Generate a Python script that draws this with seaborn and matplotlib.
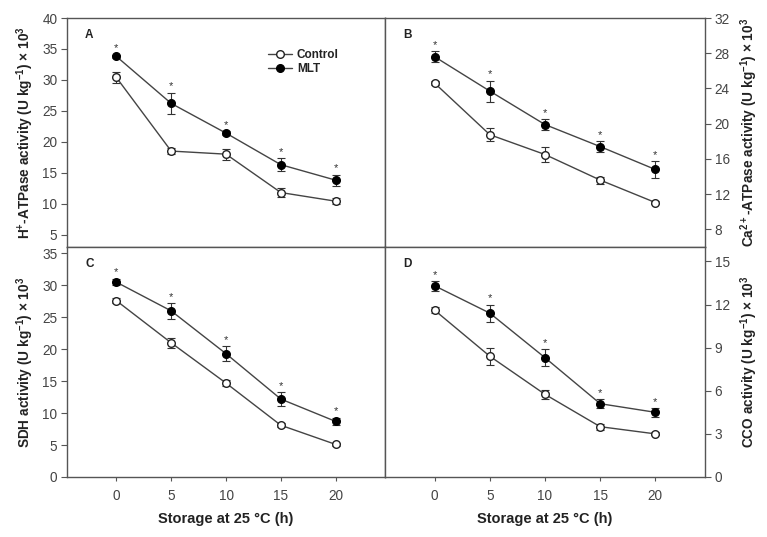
import matplotlib
matplotlib.use("Agg")
import matplotlib.pyplot as plt
import seaborn as sns
import numpy as np

# ---- data ----
times = [0, 5, 10, 15, 20]

h_ctrl = [30.4, 18.5, 18.0, 11.8, 10.4]
h_ctrl_err = [0.9, 0.5, 0.9, 0.8, 0.5]
h_mlt = [33.8, 26.2, 21.4, 16.3, 13.8]
h_mlt_err = [0.3, 1.75, 0.3, 1.0, 0.9]

ca_ctrl = [24.6, 18.75, 16.5, 13.6, 11.05]
ca_ctrl_err = [0.2, 0.75, 0.8, 0.4, 0.2]
ca_mlt = [27.6, 23.7, 19.9, 17.4, 14.8]
ca_mlt_err = [0.6, 1.2, 0.6, 0.6, 0.95]

sdh_ctrl = [27.6, 21.0, 14.7, 8.1, 5.1]
sdh_ctrl_err = [0.4, 0.8, 0.5, 0.3, 0.3]
sdh_mlt = [30.5, 26.0, 19.3, 12.2, 8.7]
sdh_mlt_err = [0.5, 1.2, 1.2, 1.1, 0.6]

cco_ctrl = [11.6, 8.4, 5.75, 3.5, 3.0]
cco_ctrl_err = [0.2, 0.6, 0.3, 0.2, 0.1]
cco_mlt = [13.3, 11.4, 8.3, 5.1, 4.5]
cco_mlt_err = [0.33, 0.6, 0.6, 0.3, 0.3]

series_labels = ["Control", "MLT"]
panel_letters = ["A", "B", "C", "D"]
ylabels = [
    r"H$^{+}$-ATPase activity (U kg$^{-1}$) × 10$^{3}$",
    r"Ca$^{2+}$-ATPase activity (U kg$^{-1}$) × 10$^{3}$",
    r"SDH activity (U kg$^{-1}$) × 10$^{3}$",
    r"CCO activity (U kg$^{-1}$) × 10$^{3}$",
]
xlabel = "Storage at 25 °C (h)"

sns.set_theme(style="white")
plt.rcParams['font.family'] = ['Liberation Sans', 'DejaVu Sans']
plt.rcParams['mathtext.fontset'] = 'custom'
plt.rcParams['mathtext.rm'] = 'Liberation Sans:bold'
plt.rcParams['mathtext.it'] = 'Liberation Sans:bold'
plt.rcParams['mathtext.bf'] = 'Liberation Sans:bold'

fig = plt.figure(figsize=(7.67, 5.37), dpi=100)
L0, W0 = 67 / 767, 318 / 767
L1, W1 = 385 / 767, 320 / 767
B0, H0 = 1 - 247 / 537, 229 / 537
B1, H1 = 1 - 477 / 537, 230 / 537
axA = fig.add_axes([L0, B0, W0, H0])
axB = fig.add_axes([L1, B0, W1, H0])
axC = fig.add_axes([L0, B1, W0, H1])
axD = fig.add_axes([L1, B1, W1, H1])

panels = [
    (axA, h_ctrl, h_ctrl_err, h_mlt, h_mlt_err, (3, 40), np.arange(5, 41, 5)),
    (axB, ca_ctrl, ca_ctrl_err, ca_mlt, ca_mlt_err, (6, 32), np.arange(8, 33, 4)),
    (axC, sdh_ctrl, sdh_ctrl_err, sdh_mlt, sdh_mlt_err, (0, 36), np.arange(0, 36, 5)),
    (axD, cco_ctrl, cco_ctrl_err, cco_mlt, cco_mlt_err, (0, 16), np.arange(0, 16, 3)),
]

line_col = "#444444"
spine_col = "#555555"
tick_col = "#444444"

for i, (ax, c, ce, m, me, ylim, yt) in enumerate(panels):
    ax.errorbar(times, c, yerr=ce, fmt='none', ecolor="#333333", elinewidth=0.8,
                capsize=3, capthick=0.8, zorder=2)
    ax.errorbar(times, m, yerr=me, fmt='none', ecolor="#333333", elinewidth=0.8,
                capsize=3, capthick=0.8, zorder=2)
    sns.lineplot(x=times, y=c, ax=ax, color=line_col, linewidth=1.0, marker='o',
                 markersize=5.5, markerfacecolor='white', markeredgecolor='#222222',
                 markeredgewidth=1.0, label=series_labels[0], zorder=3)
    sns.lineplot(x=times, y=m, ax=ax, color=line_col, linewidth=1.0, marker='o',
                 markersize=5.5, markerfacecolor='black', markeredgecolor='black',
                 markeredgewidth=1.0, label=series_labels[1], zorder=3)
    for t, v, e in zip(times, m, me):
        ax.annotate('*', (t, v + e), xytext=(0, 1), textcoords='offset points',
                    ha='center', va='bottom', fontsize=8, color='#333333')
    ax.set_xlim(-4.5, 24.5)
    ax.set_ylim(*ylim)
    ax.set_yticks(yt)
    for s in ax.spines.values():
        s.set_color(spine_col)
        s.set_linewidth(1.0)
    right = i in (1, 3)
    bottom = i in (2, 3)
    if right:
        ax.yaxis.tick_right()
        ax.yaxis.set_label_position('right')
    ax.tick_params(axis='y', direction='out', length=4, width=0.8, color=spine_col,
                   labelsize=9.8, labelcolor=tick_col, pad=3,
                   left=not right, right=right, labelleft=not right, labelright=right)
    if bottom:
        ax.set_xticks(times)
        ax.tick_params(axis='x', direction='out', length=3, width=0.8, color=spine_col,
                       labelsize=9.8, labelcolor=tick_col, pad=6, bottom=True)
        ax.set_xlabel(xlabel, fontsize=10.5, fontweight='bold', color='#222222', labelpad=6)
    else:
        ax.set_xticks([])
        ax.set_xlabel('')
    ax.set_ylabel(ylabels[i], fontsize=9.8, fontweight='bold', color='#222222',
                  labelpad=4 if not right else 6, rotation=90)
    ax.text(0.057, 0.925, panel_letters[i], transform=ax.transAxes, fontsize=8.5,
            fontweight='bold', color='#222222', ha='left', va='center')
    if i == 0:
        leg = ax.legend(loc='upper left', bbox_to_anchor=(0.6, 0.91), frameon=False,
                        handlelength=2.0, handletextpad=0.4, labelspacing=0.15,
                        prop={'weight': 'bold', 'size': 8.5})
        for t in leg.get_texts():
            t.set_color('#222222')
    else:
        if ax.get_legend() is not None:
            ax.get_legend().remove()

fig.savefig("out.png", dpi=100)
